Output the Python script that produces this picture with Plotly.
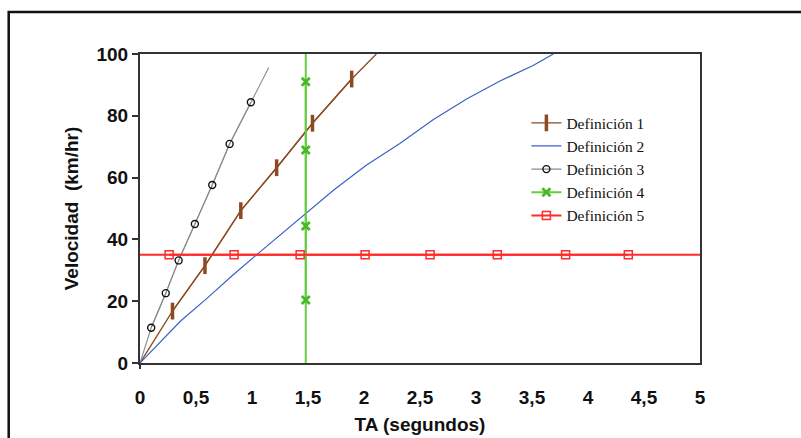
import plotly.graph_objects as go

# ---- data ----
names = ["Definición 1", "Definición 2", "Definición 3", "Definición 4", "Definición 5"]

# Definición 1 (brown, I markers)
d1_mx = [0.29, 0.58, 0.90, 1.22, 1.54, 1.89]
d1_my = [16.8, 31.5, 49.3, 63.2, 77.6, 91.9]
d1_lx = [0.0, 0.29, 0.58, 0.90, 1.22, 1.54, 1.89, 2.11]
d1_ly = [0.0, 16.8, 31.5, 49.3, 63.2, 77.6, 91.9, 100.0]

# Definición 2 (blue, line only)
d2_x = [0.0, 0.36, 0.60, 0.83, 1.04, 1.43, 1.73, 2.02, 2.32, 2.62, 2.92, 3.21, 3.51, 3.69]
d2_y = [0.0, 13.5, 21.0, 28.5, 35.0, 47.0, 56.0, 64.0, 71.0, 78.8, 85.5, 91.2, 96.3, 100.0]

# Definición 3 (gray line, black circles)
d3_mx = [0.10, 0.23, 0.345, 0.49, 0.645, 0.80, 0.99]
d3_my = [11.4, 22.6, 33.2, 45.0, 57.6, 70.9, 84.4]
d3_lx = [0.0, 0.10, 0.23, 0.345, 0.49, 0.645, 0.80, 0.99, 1.15]
d3_ly = [0.0, 11.4, 22.6, 33.2, 45.0, 57.6, 70.9, 84.4, 95.6]

# Definición 4 (green vertical, x markers)
d4_mx = [1.48, 1.48, 1.48, 1.48]
d4_my = [91.0, 68.9, 44.3, 20.4]
d4_lx = [1.48, 1.48]
d4_ly = [0.0, 100.0]

# Definición 5 (red horizontal, open squares)
d5_mx = [0.26, 0.84, 1.43, 2.01, 2.59, 3.19, 3.80, 4.36]
d5_my = [35.0, 35.0, 35.0, 35.0, 35.0, 35.0, 35.0, 35.0]
d5_lx = [0.0, 5.0]
d5_ly = [35.0, 35.0]

x_ticks = [0, 0.5, 1, 1.5, 2, 2.5, 3, 3.5, 4, 4.5, 5]
y_ticks = [0, 20, 40, 60, 80, 100]

# ---- styles ----
c1, c2, c3, c4, c5 = "#8b4a22", "#3f5fc6", "#8a8a8a", "#66cc44", "#ff2a2a"

fig = go.Figure()

# background line paths (no legend)
fig.add_trace(go.Scatter(x=d5_lx, y=d5_ly, mode="lines", line=dict(color=c5, width=2),
                         showlegend=False, hoverinfo="skip"))
fig.add_trace(go.Scatter(x=d4_lx, y=d4_ly, mode="lines", line=dict(color=c4, width=2),
                         showlegend=False, hoverinfo="skip"))
fig.add_trace(go.Scatter(x=d1_lx, y=d1_ly, mode="lines", line=dict(color=c1, width=1.3),
                         showlegend=False, hoverinfo="skip"))
fig.add_trace(go.Scatter(x=d3_lx, y=d3_ly, mode="lines", line=dict(color=c3, width=1.1),
                         showlegend=False, hoverinfo="skip"))

# legend traces
fig.add_trace(go.Scatter(x=d1_mx, y=d1_my, name=names[0], mode="lines+markers",
                         line=dict(color=c1, width=1.3),
                         marker=dict(symbol="line-ns-open", size=12, color=c1,
                                     line=dict(color=c1, width=3.5))))
fig.add_trace(go.Scatter(x=d2_x, y=d2_y, name=names[1], mode="lines",
                         line=dict(color=c2, width=1.2)))
fig.add_trace(go.Scatter(x=d3_mx, y=d3_my, name=names[2], mode="lines+markers",
                         line=dict(color=c3, width=1.1),
                         marker=dict(symbol="circle-open", size=7, color="#111111",
                                     line=dict(color="#111111", width=1.4))))
fig.add_trace(go.Scatter(x=d4_mx, y=d4_my, name=names[3], mode="lines+markers",
                         line=dict(color=c4, width=2),
                         marker=dict(symbol="x-thin-open", size=8, color="#44bb22",
                                     line=dict(color="#44bb22", width=2.8))))
fig.add_trace(go.Scatter(x=d5_mx, y=d5_my, name=names[4], mode="lines+markers",
                         line=dict(color=c5, width=2),
                         marker=dict(symbol="square-open", size=8, color=c5,
                                     line=dict(color=c5, width=1.5))))

tickfont = dict(family="Liberation Sans, Arial, sans-serif", size=19, color="#111111", weight="bold")
titlefont = dict(family="Liberation Sans, Arial, sans-serif", size=19, color="#111111", weight="bold")

fig.update_layout(
    width=801, height=438,
    margin=dict(l=140, r=101, t=54, b=75),
    paper_bgcolor="white", plot_bgcolor="white",
    separators=",.",
    showlegend=True,
    legend=dict(x=0.69, y=0.831, xanchor="left", yanchor="top",
                bgcolor="rgba(0,0,0,0)", borderwidth=0,
                font=dict(family="Liberation Serif, Times New Roman, serif", size=15.5, color="#111111"),
                traceorder="normal"),
    xaxis=dict(range=[0, 5], tickvals=x_ticks, showgrid=False, zeroline=False,
               showline=True, linecolor="#333333", linewidth=2, mirror=True,
               ticks="outside", ticklen=16, tickcolor="rgba(0,0,0,0)",
               tickfont=tickfont, automargin=False,
               title=dict(text="TA (segundos)", font=titlefont, standoff=11)),
    yaxis=dict(range=[0, 100], tickvals=y_ticks, showgrid=False, zeroline=False,
               showline=True, linecolor="#333333", linewidth=2, mirror=True,
               ticks="outside", ticklen=6, tickwidth=2, tickcolor="#333333",
               tickfont=tickfont, automargin=False,
               title=dict(text="Velocidad\u00a0 (km/hr)", font=titlefont, standoff=13)),
    shapes=[
        dict(type="rect", xref="paper", yref="paper",
             x0=(8.7 - 140) / 560, x1=1.8, y0=-0.6, y1=(363 - 12) / 309,
             line=dict(color="#111111", width=2.5), fillcolor="rgba(0,0,0,0)", layer="below"),
        dict(type="line", xref="paper", yref="paper", x0=0, x1=0, y0=0, y1=-6 / 309,
             line=dict(color="#333333", width=2)),
    ],
)

fig.write_html("out.html")
